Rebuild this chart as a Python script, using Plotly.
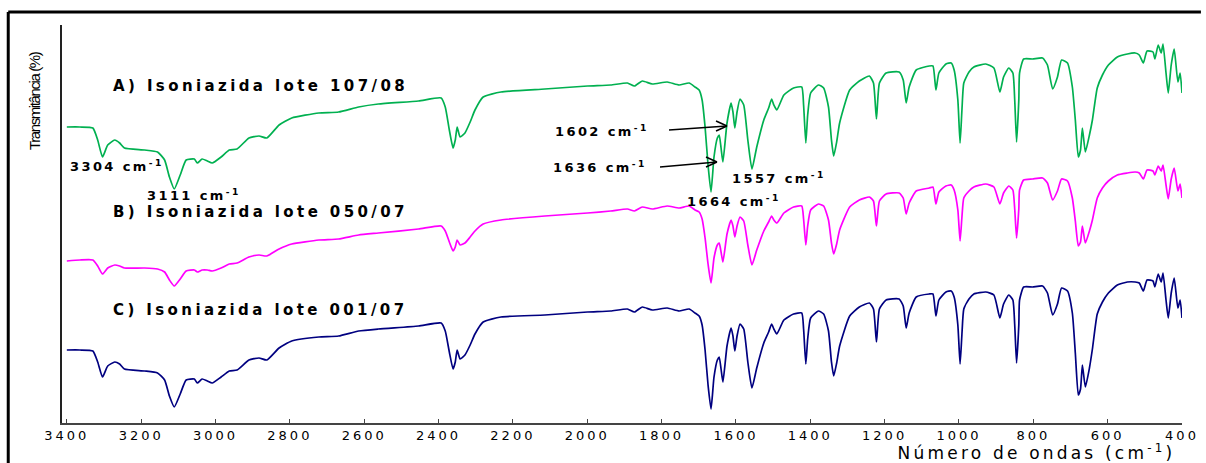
import plotly.graph_objects as go

# Wavenumbers (cm^-1) shared by the three spectra
wavenumber = [3400,3365,3330,3317,3304,3290,3271,3258,3245,3191,
              3156,3137,3124,3111,3095,3079,3057,3049,3036,3022,
              3009,2985,2963,2942,2910,2883,2862,2829,2795,2722,
              2669,2615,2562,2454,2393,2382,2371,2361,2355,2350,
              2342,2329,2315,2302,2280,2232,2114,1999,1937,1892,
              1873,1852,1825,1785,1753,1726,1710,1699,1691,1683,
              1675,1667,1659,1650,1645,1640,1635,1624,1613,1608,
              1603,1597,1589,1579,1568,1557,1544,1525,1512,1504,
              1498,1490,1471,1445,1423,1418,1412,1407,1399,1378,
              1364,1351,1343,1337,1329,1321,1294,1268,1241,1230,
              1222,1214,1196,1161,1150,1142,1134,1115,1080,1070,
              1062,1054,1035,1021,1013,1003,997,992,987,973,
              960,928,906,890,880,866,855,850,845,839,
              837,826,802,775,762,748,735,724,708,695,
              687,679,673,668,660,649,641,628,614,598,
              574,547,526,515,504,494,478,473,464,456,
              451,443,437,429,421,411,405,400]

# Transmittance (arbitrary units, spectra stacked with offsets)
trans_a = [296,296,295,283,266,278,283,280,275,273,
           271,263,246,234,248,263,264,260,264,262,
           260,266,273,274,285,287,285,298,305,310,
           311,316,319,322,325,316,293,275,283,296,
           286,290,301,313,326,331,334,337,338,340,
           337,342,339,341,338,340,336,333,323,296,
           258,231,266,285,288,275,261,300,320,311,
           295,311,324,318,283,254,276,303,315,324,
           318,313,328,335,336,318,280,308,330,338,
           335,316,283,267,281,300,333,342,347,340,
           304,340,350,351,343,320,336,353,357,357,
           333,350,359,360,353,323,280,313,340,351,
           356,359,355,331,346,355,350,323,281,323,
           350,364,364,365,358,334,346,363,360,336,
           303,266,273,295,271,288,303,335,348,358,
           366,369,370,368,360,372,371,364,378,370,
           379,350,330,358,374,341,350,330]

trans_b = [162,163,163,157,149,155,158,157,155,155,
           154,151,143,137,144,152,153,151,153,153,
           152,155,159,160,166,168,167,174,179,183,
           184,188,190,194,197,192,181,172,176,183,
           178,180,186,192,199,203,207,210,212,214,
           212,216,214,217,215,217,213,211,204,185,
           159,140,165,178,180,171,161,189,203,197,
           186,197,206,202,178,158,173,192,201,207,
           203,200,210,216,217,204,178,197,213,219,
           217,203,180,169,179,193,216,223,226,222,
           197,222,229,230,225,209,220,232,235,236,
           219,231,237,238,233,213,182,206,225,232,
           236,239,236,219,230,237,233,214,185,214,
           233,243,244,245,240,223,232,244,242,225,
           202,177,181,197,180,192,203,225,235,242,
           248,250,251,250,244,253,252,248,257,252,
           258,238,224,244,255,232,239,225]

trans_c = [73,73,72,61,46,57,61,59,54,52,
           50,43,27,16,29,43,44,40,44,42,
           40,46,52,53,63,65,63,75,82,86,
           87,92,94,97,100,92,71,54,61,73,
           64,68,78,89,101,106,108,111,112,114,
           111,116,113,115,112,114,110,107,98,73,
           38,14,46,63,66,54,41,77,95,87,
           72,87,99,94,61,35,55,80,91,99,
           94,89,103,109,110,94,59,84,105,112,
           109,92,61,47,60,77,107,116,120,114,
           81,114,123,124,117,95,110,126,129,129,
           107,123,131,132,126,98,59,89,114,124,
           129,131,128,105,119,128,123,98,60,98,
           123,136,136,137,130,108,119,135,132,110,
           70,28,34,58,36,55,74,109,121,130,
           138,141,141,140,132,143,142,136,149,141,
           150,123,105,130,145,115,123,105]

series_names = ["A) Isoniazida lote 107/08",
                "B) Isoniazida lote 050/07",
                "C) Isoniazida lote 001/07"]
series_colors = ["#00B050", "#FF00FF", "#000080"]
x_ticks = [3400, 3200, 3000, 2800, 2600, 2400, 2200, 2000,
           1800, 1600, 1400, 1200, 1000, 800, 600, 400]

fig = go.Figure()
for name, ys, col in zip(series_names, [trans_a, trans_b, trans_c], series_colors):
    fig.add_trace(go.Scatter(x=wavenumber, y=ys, mode="lines", name=name,
                             line=dict(color=col, width=1.7, shape="spline", smoothing=0.5)))

label_font = dict(family="DejaVu Sans", size=15, color="black", weight="bold")
peak_font = dict(family="DejaVu Sans", size=13, color="black", weight="bold")

annotations = []
# series titles
for name, (xv, yv) in zip(series_names, [(3280, 337), (3280, 211), (3280, 113)]):
    annotations.append(dict(x=xv, y=yv, text=name, showarrow=False, align="left",
                            xanchor="left", yanchor="middle", font=label_font))
# band labels
for txt, xv, yv in [("3304 cm<sup>-1</sup>", 3397, 257),
                    ("3111 cm<sup>-1</sup>", 3191, 228),
                    ("1602 cm<sup>-1</sup>", 2093, 292),
                    ("1636 cm<sup>-1</sup>", 2098, 256),
                    ("1557 cm<sup>-1</sup>", 1616, 245),
                    ("1664 cm<sup>-1</sup>", 1737, 222)]:
    annotations.append(dict(x=xv, y=yv, text=txt, showarrow=False, align="left",
                            xanchor="left", yanchor="middle", font=peak_font))
# axis titles
annotations.append(dict(xref="paper", yref="paper", x=0.9955, y=-0.074,
                        text="Número de ondas (cm<sup>-1</sup>)", showarrow=False,
                        align="right", xanchor="right", yanchor="middle",
                        font=dict(family="DejaVu Sans", size=17, color="black")))
annotations.append(dict(xref="paper", yref="paper", x=-0.024, y=0.807,
                        text="Transmitância (%)", showarrow=False, textangle=-90,
                        xanchor="center", yanchor="middle",
                        font=dict(family="Liberation Sans", size=15, color="black")))

shapes = [
    # outer frame (top and left edges)
    dict(type="line", xref="paper", yref="paper", x0=-0.0480, x1=1.0169, y0=1.0327, y1=1.0327,
         line=dict(color="black", width=3)),
    dict(type="line", xref="paper", yref="paper", x0=-0.0480, x1=-0.0480, y0=1.0327, y1=-0.12,
         line=dict(color="black", width=3)),
]
# open arrows pointing at the 1602 and 1636 cm-1 bands (offsets in pixels from the tip)
for tip_x, tip_y, tail_dx, tail_dy in [(1624, 297, -58, -4), (1651, 261, -57, -5)]:
    for x0, y0 in [(tail_dx, tail_dy), (-11, 5), (-11, -5)]:
        shapes.append(dict(type="line", xref="x", yref="y",
                           xsizemode="pixel", ysizemode="pixel",
                           xanchor=tip_x, yanchor=tip_y,
                           x0=x0, y0=y0, x1=0, y1=0,
                           line=dict(color="black", width=1.5)))

fig.update_layout(
    width=1206, height=463,
    margin=dict(l=62, r=19, t=25, b=40),
    paper_bgcolor="white", plot_bgcolor="white",
    showlegend=False,
    annotations=annotations,
    shapes=shapes,
    xaxis=dict(range=[3413, 400], tickvals=x_ticks, ticks="inside", ticklen=4,
               tickcolor="#444", showline=True, linecolor="#444", linewidth=1.5,
               showgrid=False, zeroline=False,
               tickfont=dict(family="DejaVu Sans", size=13, color="black")),
    yaxis=dict(range=[0, 398], showticklabels=False, ticks="", showline=True,
               linecolor="#222", linewidth=1.5, showgrid=False, zeroline=False),
)

# Widen the lettering (wide typeface look) once the figure is drawn,
# and keep the page free of scrollbars
letter_spacing_js = """
document.documentElement.style.overflow = 'hidden';
document.body.style.overflow = 'hidden';
document.body.style.margin = '0';
var gd = document.getElementById('{plot_id}');
gd.querySelectorAll('.annotation-text').forEach(function(t){
  var s = t.textContent;
  if (s.indexOf('Isoniazida') >= 0) { t.style.letterSpacing = '3.4px'; }
  else if (s.indexOf('Número') >= 0) { t.style.letterSpacing = '3.2px'; }
  else if (s.indexOf('Transmit') >= 0) { t.style.letterSpacing = '-1.4px'; }
  else if (s.indexOf('cm') >= 0) { t.style.letterSpacing = '2.4px'; }
});
gd.querySelectorAll('.xtick text').forEach(function(t){ t.style.letterSpacing = '3px'; });
"""

fig.write_html("out.html", post_script=letter_spacing_js,
               config={"displayModeBar": False})
